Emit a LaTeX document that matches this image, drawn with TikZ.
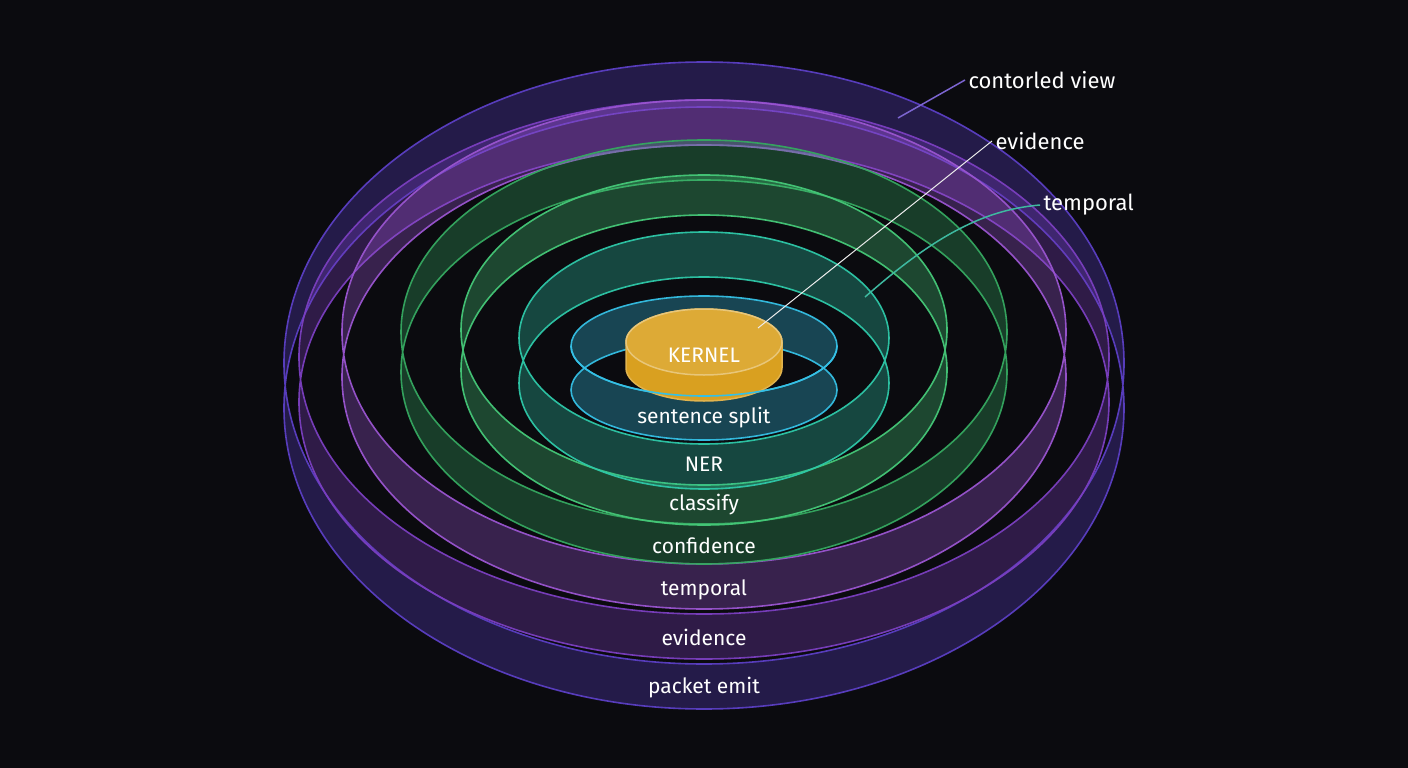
\documentclass[tikz,border=0pt]{standalone}
\usepackage{fontspec}
\setmainfont{Fira Sans}
\begin{document}
\begin{tikzpicture}[x=1pt,y=-1pt,
  ring/.style={draw=#1,line width=1.6pt,fill=#1,fill opacity=0.32,draw opacity=0.95,even odd rule},
  lab/.style={text=white,font=\fontsize{21}{24}\selectfont},
  call/.style={text=white,font=\fontsize{22}{26}\selectfont,anchor=west}]
\definecolor{bg}{HTML}{0B0B0F}
\definecolor{cvio}{HTML}{5B3FC4}
\definecolor{cdvio}{HTML}{7B3FC0}
\definecolor{cpur}{HTML}{9A55D0}
\definecolor{cdgr}{HTML}{35A860}
\definecolor{cgr}{HTML}{45C878}
\definecolor{cteal}{HTML}{2EC8A8}
\definecolor{ccy}{HTML}{35C0E5}
\definecolor{cgold}{HTML}{D9A020}
\fill[bg] (0,0) rectangle (1408,768);
\useasboundingbox (0,0) rectangle (1408,768);
% rings: outer to inner
\path[ring=cvio] (704,363) ellipse [x radius=420pt,y radius=301pt] (704,408) ellipse [x radius=420pt,y radius=301pt];
\path[ring=cdvio] (704,357) ellipse [x radius=405pt,y radius=257pt] (704,402) ellipse [x radius=405pt,y radius=257pt];
\path[ring=cpur] (704,332) ellipse [x radius=362pt,y radius=232pt] (704,377) ellipse [x radius=362pt,y radius=232pt];
\path[ring=cdgr] (704,332) ellipse [x radius=303pt,y radius=192pt] (704,372) ellipse [x radius=303pt,y radius=192pt];
\path[ring=cgr] (704,330) ellipse [x radius=243pt,y radius=155pt] (704,370) ellipse [x radius=243pt,y radius=155pt];
\path[ring=cteal] (704,338) ellipse [x radius=185pt,y radius=106pt] (704,383) ellipse [x radius=185pt,y radius=106pt];
\path[ring=ccy] (704,346) ellipse [x radius=133pt,y radius=50pt] (704,390) ellipse [x radius=133pt,y radius=50pt];
% kernel
\path[fill=cgold,draw=cgold!80!white,line width=1.5pt] (626,342) -- (626,368) arc[start angle=180,end angle=360,x radius=78pt,y radius=33pt] -- (782,342) arc[start angle=0,end angle=180,x radius=78pt,y radius=33pt] -- cycle;
\draw[cgold!60!white,line width=1.5pt,fill=cgold!90!white] (704,342) ellipse [x radius=78pt,y radius=33pt];
\node[lab] (kern) at (704,355) {KERNEL};
% cyan front arc over kernel
\draw[ccy,line width=1.6pt] (571,346) arc[start angle=180,end angle=360,x radius=133pt,y radius=50pt];
% band labels
\node[lab] (l1) at (704,418) {sentence split};
\node[lab] (l2) at (704,464) {NER};
\node[lab] (l3) at (704,505) {classify};
\node[lab] (l4) at (704,546) {confidence};
\node[lab] (l5) at (704,590) {temporal};
\node[lab] (l6) at (704,637) {evidence};
\node[lab] (l7) at (704,688) {packet emit};
% callouts
\node[call] (c1) at (965,80) {contorled view};
\node[call] (c2) at (992,141) {evidence};
\node[call] (c3) at (1040,205) {temporal};
\coordinate (p1) at (898,118);
\coordinate (p2) at (758,328);
\coordinate (p3) at (865,297);
\draw[cvio!80!white,line width=1.5pt] (p1) -- (c1.west);
\draw[white!85!gray,line width=1pt] (p2) -- (c2.west);
\draw[cteal!80!gray,line width=1.5pt] (p3) .. controls (930,240) and (980,210) .. (c3.west);
\end{tikzpicture}
\end{document}
